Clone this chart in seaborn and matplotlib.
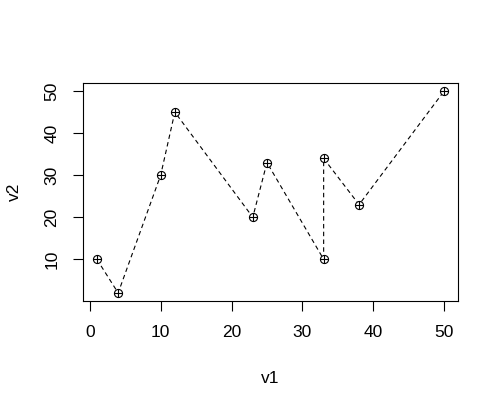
import matplotlib
matplotlib.use("Agg")
import matplotlib.pyplot as plt
import seaborn as sns
import pandas as pd

v1 = [1, 4, 10, 12, 23, 25, 33, 33, 38, 50]
v2 = [10, 2, 30, 45, 20, 33, 10, 34, 23, 50]
df = pd.DataFrame({"v1": v1, "v2": v2})

sns.set_style("white")
plt.rcParams['font.family'] = ['Liberation Sans', 'DejaVu Sans']
plt.rcParams['text.color'] = 'black'
plt.rcParams['axes.labelcolor'] = 'black'

fig = plt.figure(figsize=(5.0, 4.09), dpi=100)
ax = fig.add_axes([0.166, 0.264, 0.75, 0.533])

sns.lineplot(data=df, x="v1", y="v2", sort=False, estimator=None, ax=ax,
             color="black", linewidth=0.8, linestyle=(0, (4, 3)), zorder=1)
sns.scatterplot(data=df, x="v1", y="v2", ax=ax, marker="o", s=34,
                facecolor="white", edgecolor="black", linewidth=0.8, zorder=2)
sns.scatterplot(data=df, x="v1", y="v2", ax=ax, marker="+", s=34,
                color="black", linewidth=0.8, zorder=3)

ax.set_xlim(-0.96, 51.96)
ax.set_ylim(0.08, 51.92)
ax.set_xticks([0, 10, 20, 30, 40, 50])
ax.set_yticks([10, 20, 30, 40, 50])
for s in ax.spines.values():
    s.set_color("black")
    s.set_linewidth(0.8)
ax.tick_params(bottom=True, left=True, direction="out", length=7, width=0.8,
               colors="black", labelcolor="black", labelsize=12.5, pad=10)
for lab in ax.get_yticklabels():
    lab.set_rotation(90)
    lab.set_va("center")
ax.set_xlabel("v1", fontsize=12.5)
ax.set_ylabel("v2", fontsize=12.5)
ax.xaxis.set_label_coords(0.5, -0.355)
ax.yaxis.set_label_coords(-0.182, 0.5)
ax.xaxis.label.set_va("center")
ax.yaxis.label.set_va("center")

fig.savefig("out.png", dpi=100)
